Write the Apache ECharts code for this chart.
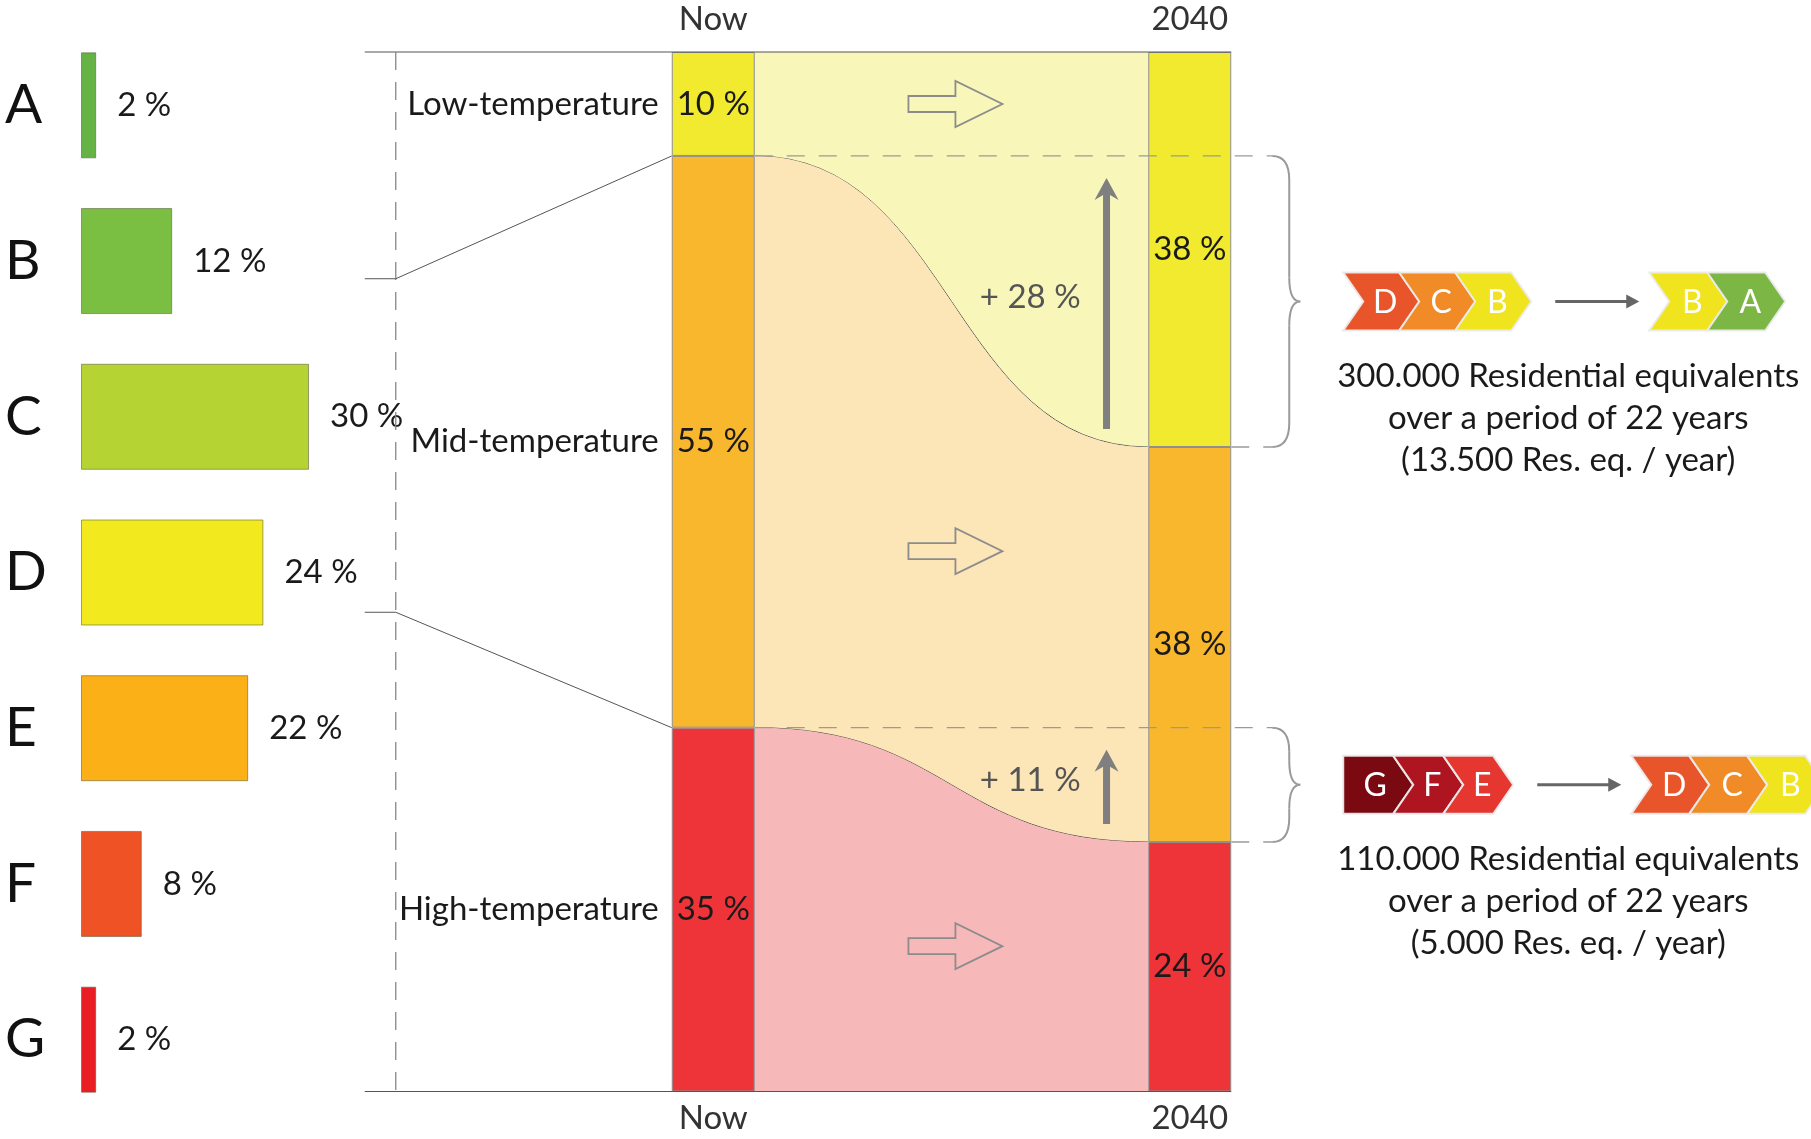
<!DOCTYPE html>
<html><head><meta charset="utf-8">
<script src="https://cdn.jsdelivr.net/npm/echarts/dist/echarts.min.js"></script>
<style>html,body{margin:0;padding:0;background:#fff}#c{width:1811px;height:1139px}</style>
</head><body><div id="c"></div>
<script>
// ---------------- data ----------------
const labelClasses = ['A', 'B', 'C', 'D', 'E', 'F', 'G'];
const labelShares = [2, 12, 30, 24, 22, 8, 2];
const periods = ['Now', '2040'];
const tempNames = ['Low-temperature', 'Mid-temperature', 'High-temperature'];
const lowShares = [10, 38];
const midShares = [55, 38];
const highShares = [35, 24];
const upgradeFrom = [['D', 'C', 'B'], ['G', 'F', 'E']];
const upgradeTo = [['B', 'A'], ['D', 'C', 'B']];
const upgradeText = [
  ['300.000 Residential equivalents', 'over a period of 22 years', '(13.500 Res. eq. / year)'],
  ['110.000 Residential equivalents', 'over a period of 22 years', '(5.000 Res. eq. / year)']
];

// ---------------- styles ----------------
const FONT = 'Lato, "Noto Sans", sans-serif';
const FS = 33;
const TXT = '#1a1a1a';
const classColors = { A: '#66b345', B: '#7abf42', C: '#b6d334', D: '#f2ea1e', E: '#fbb017', F: '#ef5224', G: '#e91e25' };
const chevronColors = { A: '#7cb746', B: '#f0e41e', C: '#f08b28', D: '#e8552a', E: '#e5362f', F: '#ae1520', G: '#7a0911' };
const tempColors = ['#f1ea2e', '#f9b72e', '#ee3439'];
const flowColors = ['#f8f6b9', '#fce5b6', '#f7b8b9'];
const BW = 83;        // middle bar width
const LBW = 106;      // left bar width

const tempShares = [lowShares, midShares, highShares];
function cum(p) { let s = 0; const out = [0]; tempShares.forEach(a => { s += a[p]; out.push(s); }); return out; }
const cumNow = cum(0), cum40 = cum(1);

const flowData = tempNames.map((n, i) => [periods[0], cumNow[i], cumNow[i + 1], cum40[i], cum40[i + 1]]);

const chart = echarts.init(document.getElementById('c'));

const option = {
  animation: false,
  backgroundColor: '#fff',
  grid: [
    { left: 81, top: 27.5, width: 304, height: 1090 },
    { left: 475, top: 52, width: 953, height: 1039.5 }
  ],
  xAxis: [
    { gridIndex: 0, type: 'value', min: 0, max: 40, show: false },
    { gridIndex: 1, type: 'category', data: periods, position: 'top',
      axisLine: { show: false }, axisTick: { show: false }, splitLine: { show: false },
      axisLabel: { fontSize: FS, fontFamily: FONT, color: '#333', margin: 16 } },
    { gridIndex: 1, type: 'category', data: periods, position: 'bottom',
      axisLine: { show: false }, axisTick: { show: false }, splitLine: { show: false },
      axisLabel: { fontSize: FS, fontFamily: FONT, color: '#333', margin: 10 } }
  ],
  yAxis: [
    { gridIndex: 0, type: 'category', data: labelClasses, inverse: true,
      axisLine: { show: false }, axisTick: { show: false },
      axisLabel: { align: 'left', margin: 76, fontSize: 55, fontFamily: FONT, color: '#111' } },
    { gridIndex: 1, type: 'value', min: 0, max: 100, inverse: true, show: false }
  ],
  series: [
    {
      type: 'bar', xAxisIndex: 0, yAxisIndex: 0, barWidth: LBW,
      data: labelShares.map((v, i) => ({ value: v, itemStyle: { color: classColors[labelClasses[i]] } })),
      itemStyle: { borderColor: 'rgba(90,90,60,0.55)', borderWidth: 1 },
      label: { show: true, position: 'right', distance: 21, formatter: '{c} %', fontSize: FS, fontFamily: FONT, color: TXT }
    },
    {
      type: 'custom', xAxisIndex: 1, yAxisIndex: 1, z: 1, data: flowData,
      encode: { x: 0, y: [1, 2, 3, 4] },
      renderItem: function (params, api) {
        const i = params.dataIndex;
        const xa = api.coord([0, 0])[0] + BW / 2;
        const xb = api.coord([1, 0])[0] - BW / 2;
        const y = v => api.coord([0, v])[1];
        const k = (xb - xa) * 0.5;
        const a0 = y(api.value(1)), a1 = y(api.value(2)), b0 = y(api.value(3)), b1 = y(api.value(4));
        const d = `M${xa},${a0} C${xa + k},${a0} ${xb - k},${b0} ${xb},${b0} L${xb},${b1} C${xb - k},${b1} ${xa + k},${a1} ${xa},${a1} Z`;
        const children = [{ type: 'path', shape: { pathData: d }, style: { fill: flowColors[i] } }];
        if (i < tempNames.length - 1) {
          children.push({ type: 'path', shape: { pathData: `M${xa},${a1} C${xa + k},${a1} ${xb - k},${b1} ${xb},${b1}` },
            style: { fill: 'none', stroke: '#555', lineWidth: 1 } });
        }
        return { type: 'group', children: children };
      }
    }
  ].concat(tempNames.map((n, t) => ({
    type: 'bar', name: n, xAxisIndex: 1, yAxisIndex: 1, stack: 'temp', barWidth: BW, z: 3,
    data: tempShares[t],
    itemStyle: { color: tempColors[t], borderColor: '#8f8f8f', borderWidth: 1 },
    label: { show: true, position: 'inside', formatter: '{c} %', fontSize: FS, fontFamily: FONT, color: TXT }
  })))
};
chart.setOption(option);

// ---------------- annotations (positions from the axes) ----------------
const mid = (c, v) => chart.convertToPixel({ xAxisIndex: 1, yAxisIndex: 1 }, [c, v]);
const Y = v => mid(periods[0], v)[1];
const xNowC = mid(periods[0], 0)[0], x40C = mid(periods[1], 0)[0];
const xNowL = xNowC - BW / 2, xNowR = xNowC + BW / 2, x40L = x40C - BW / 2, x40R = x40C + BW / 2;
const FRAME_L = xNowL - 307, DASH_X = xNowL - 276;
const braceL = x40R + 41, spineX = braceL + 17, tipX = braceL + 28;
const G = [];
const Z = 10;
function line(x1, y1, x2, y2, style) { G.push({ type: 'line', z: Z, silent: true, shape: { x1, y1, x2, y2 }, style: style }); }
function text(x, y, s, opt) {
  opt = opt || {};
  G.push({ type: 'text', z: Z + 2, silent: true, x: x, y: y,
    style: { text: s, fill: opt.fill || TXT, font: (opt.weight || 'normal') + ' ' + (opt.size || FS) + 'px ' + FONT,
      align: opt.align || 'center', textAlign: opt.align || 'center', verticalAlign: 'middle', textVerticalAlign: 'middle' } });
}
function poly(points, style, z) { G.push({ type: 'polygon', z: z || Z, silent: true, shape: { points }, style }); }

// frame
line(FRAME_L, Y(0), x40R, Y(0), { stroke: '#555', lineWidth: 1.2 });
line(FRAME_L, Y(100), x40R, Y(100), { stroke: '#555', lineWidth: 1.2 });
line(DASH_X, Y(0), DASH_X, Y(100), { stroke: '#888', lineWidth: 1.3, lineDash: [18, 12] });

// connectors from the label distribution to the "Now" split
for (let j = 1; j < cumNow.length - 1; j++) {
  const c = cumNow[j];
  let s = 0, idx = 0, f = 0;
  for (let i = 0; i < labelShares.length; i++) {
    if (c <= s + labelShares[i]) { idx = i; f = (c - s) / labelShares[i]; break; }
    s += labelShares[i];
  }
  const yc = chart.convertToPixel({ xAxisIndex: 0, yAxisIndex: 0 }, [0, labelClasses[idx]])[1];
  const yl = yc - LBW / 2 + f * LBW;
  G.push({ type: 'polyline', z: Z, silent: true, shape: { points: [[FRAME_L, yl], [DASH_X, yl], [xNowL, Y(c)]] },
    style: { stroke: '#555', lineWidth: 1, fill: null } });
}

// temperature names
tempNames.forEach((n, i) => text(xNowL - 13, Y((cumNow[i] + cumNow[i + 1]) / 2), n, { align: 'right' }));

// hollow flow arrows
tempNames.forEach((n, i) => {
  const v = i === 0 ? (cumNow[0] + cumNow[1]) / 2
    : ((cumNow[i] + cum40[i]) / 2 + (cumNow[i + 1] + cum40[i + 1]) / 2) / 2;
  const cx = xNowR + 0.51 * (x40L - xNowR), cy = Y(v) + (i === 0 ? 0 : 8);
  poly([[cx - 47, cy - 8], [cx, cy - 8], [cx, cy - 23], [cx + 47, cy], [cx, cy + 23], [cx, cy + 8], [cx - 47, cy + 8]],
    { fill: 'none', stroke: '#8c8c8c', lineWidth: 1.8 });
});

// shifts between bands
let g = 0;
for (let j = 1; j < cumNow.length - 1; j++) {
  if (cumNow[j] === cum40[j]) continue;
  const yT = Y(cumNow[j]), yB = Y(cum40[j]), yM = (yT + yB) / 2;
  const dash = { stroke: '#9a9a9a', lineWidth: 1.3, lineDash: [18, 14] };
  line(xNowR, yT, braceL, yT, dash);
  line(x40R, yB, braceL, yB, dash);
  // brace
  const r = Math.min(24, (yB - yT) / 4);
  const bs = { stroke: '#9a9a9a', lineWidth: 2, fill: null };
  G.push({ type: 'bezierCurve', z: Z, silent: true, shape: { x1: braceL, y1: yT, cpx1: spineX, cpy1: yT, x2: spineX, y2: yT + r }, style: bs });
  line(spineX, yT + r, spineX, yM - r, bs);
  G.push({ type: 'bezierCurve', z: Z, silent: true, shape: { x1: spineX, y1: yM - r, cpx1: spineX, cpy1: yM, x2: tipX, y2: yM }, style: bs });
  G.push({ type: 'bezierCurve', z: Z, silent: true, shape: { x1: tipX, y1: yM, cpx1: spineX, cpy1: yM, x2: spineX, y2: yM + r }, style: bs });
  line(spineX, yM + r, spineX, yB - r, bs);
  G.push({ type: 'bezierCurve', z: Z, silent: true, shape: { x1: spineX, y1: yB - r, cpx1: spineX, cpy1: yB, x2: braceL, y2: yB }, style: bs });
  // up arrow
  const ax = xNowR + 0.894 * (x40L - xNowR);
  const tip = yT + 22, bot = yB - 18;
  line(ax, bot, ax, tip + 12, { stroke: '#7f7f7f', lineWidth: 7 });
  poly([[ax, tip], [ax + 12, tip + 22], [ax, tip + 15], [ax - 12, tip + 22]], { fill: '#7f7f7f' });
  text(xNowR + 0.70 * (x40L - xNowR), yM - 4, '+ ' + (cum40[j] - cumNow[j]) + ' %', { fill: '#555' });

  // rating chevrons
  const H = 58, d = 20;
  const groups = [
    { letters: upgradeFrom[g], pitch: g === 0 ? 56 : 50, flat: g === 1 },
    { letters: upgradeTo[g], pitch: 58, flat: false }
  ];
  let x = tipX + 43;
  groups.forEach((grp, gi) => {
    grp.letters.forEach((L, i) => {
      const xi = x + i * grp.pitch;
      const pts = [[xi, yM - H / 2], [xi + grp.pitch, yM - H / 2], [xi + grp.pitch + d, yM], [xi + grp.pitch, yM + H / 2], [xi, yM + H / 2]];
      if (!(grp.flat && i === 0)) pts.push([xi + d, yM]);
      poly(pts, { fill: chevronColors[L], stroke: 'rgba(235,235,235,0.95)', lineWidth: 2 }, Z + 1);
      text(xi + (grp.pitch + d) / 2 + (grp.flat && i === 0 ? -3 : 4), yM + 1, L, { fill: '#fff', size: 32 });
    });
    x = x + grp.letters.length * grp.pitch + d;
    if (gi === 0) {
      const a0 = x + 24, a1 = a0 + 84;
      line(a0, yM, a1 - 8, yM, { stroke: '#666', lineWidth: 3 });
      poly([[a1, yM], [a1 - 13, yM - 7], [a1 - 13, yM + 7]], { fill: '#666' });
      x = a1 + 10;
    }
  });
  upgradeText[g].forEach((s, k) => text(tipX + 268, yM + 75 + k * 42, s));
  g++;
}

chart.setOption({ graphic: { elements: G } });
</script>
</body></html>
